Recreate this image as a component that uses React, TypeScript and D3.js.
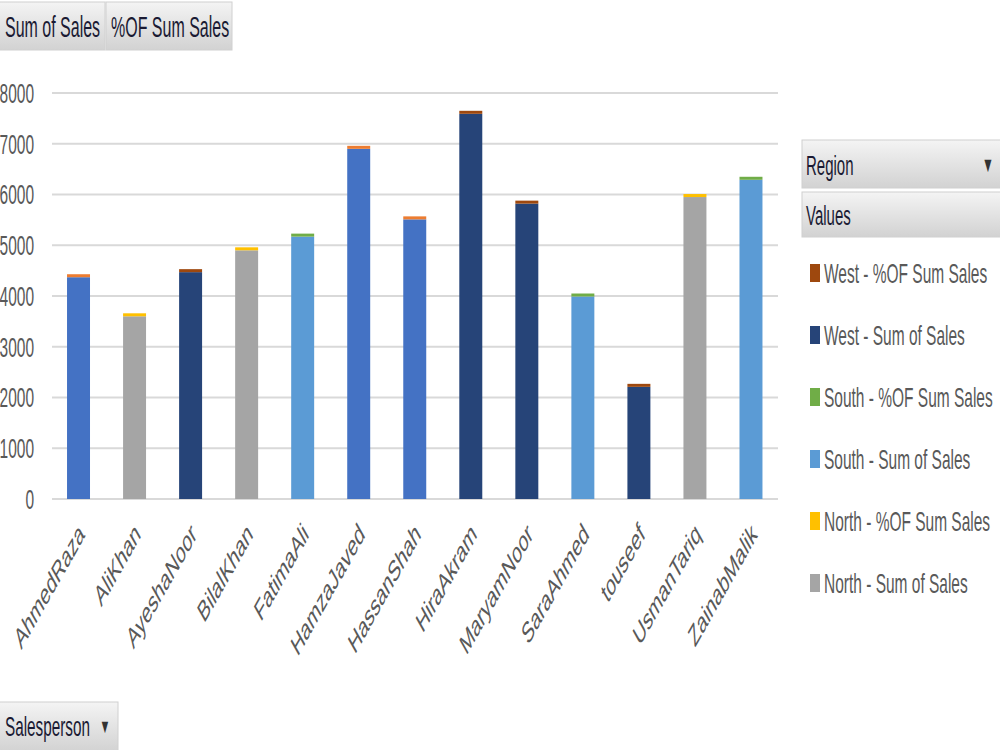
import React from "react";
import * as d3 from "d3";

const salespeople = ["AhmedRaza","AliKhan","AyeshaNoor","BilalKhan","FatimaAli","HamzaJaved","HassanShah","HiraAkram","MaryamNoor","SaraAhmed","touseef","UsmanTariq","ZainabMalik"];
const personRegion = ["East","North","West","North","South","East","East","West","West","South","West","North","South"];
const sumOfSales = [4370,3600,4470,4900,5170,6900,5510,7590,5820,3990,2210,5950,6290];
const pctOfSales = [0.0656,0.0539,0.0669,0.0734,0.0774,0.1033,0.0825,0.1137,0.0872,0.0597,0.0331,0.0891,0.0942];
const regionsOrder = ["East","North","South","West"];
const yTicks = [0,1000,2000,3000,4000,5000,6000,7000,8000];
const seriesColors: Record<string,string> = {
  "East - Sum of Sales": "#4472C4",
  "East - %OF Sum Sales": "#ED7D31",
  "North - Sum of Sales": "#A5A5A5",
  "North - %OF Sum Sales": "#FFC000",
  "South - Sum of Sales": "#5B9BD5",
  "South - %OF Sum Sales": "#70AD47",
  "West - Sum of Sales": "#264478",
  "West - %OF Sum Sales": "#9E480E",
};
const legendItems = ["West - %OF Sum Sales","West - Sum of Sales","South - %OF Sum Sales","South - Sum of Sales","North - %OF Sum Sales","North - Sum of Sales"];

const FONT = "'Liberation Sans', Arial, sans-serif";
const K = 1.8;

function ST(props: any) {
  const { x, y, k = K, size, anchor = "start", fill = "#595959", rotate, dy, children } = props;
  return (
    <text
      transform={`translate(${x},${y}) scale(1,${k})${rotate !== undefined ? ` rotate(${rotate})` : ""}`}
      fontSize={size}
      fontFamily={FONT}
      textAnchor={anchor}
      fill={fill}
      dy={dy}
    >
      {children}
    </text>
  );
}

function Button(props: any) {
  const { x, y, w, h } = props;
  return <rect x={x} y={y} width={w} height={h} fill="url(#btnGrad)" stroke="#d0d0d0" strokeWidth={1} />;
}

export default function App() {
  const seriesKeys: string[] = [];
  regionsOrder.forEach((r) => {
    seriesKeys.push(`${r} - Sum of Sales`);
    seriesKeys.push(`${r} - %OF Sum Sales`);
  });
  const rows = salespeople.map((name, i) => {
    const row: any = { name };
    seriesKeys.forEach((k) => (row[k] = 0));
    row[`${personRegion[i]} - Sum of Sales`] = sumOfSales[i];
    row[`${personRegion[i]} - %OF Sum Sales`] = pctOfSales[i];
    return row;
  });
  const stacked = d3.stack<any>().keys(seriesKeys)(rows);

  const x = d3.scaleBand<string>().domain(salespeople).range([50.5, 779]).paddingInner(0.59).paddingOuter(0.295);
  const y = d3.scaleLinear().domain([0, 8000]).range([499, 93]);

  return (
    <svg width={1000} height={750} style={{ position: "absolute", left: 0, top: 0, background: "#fff" }}>
      <defs>
        <linearGradient id="btnGrad" x1="0" y1="0" x2="0" y2="1">
          <stop offset="0%" stopColor="#f4f4f4" />
          <stop offset="100%" stopColor="#d2d2d2" />
        </linearGradient>
      </defs>
      <rect x={0} y={0} width={1000} height={750} fill="#ffffff" />

      {yTicks.map((t) => (
        <line key={t} x1={52} x2={778} y1={y(t)} y2={y(t)} stroke="#d9d9d9" strokeWidth={2} />
      ))}
      {yTicks.map((t) => (
        <ST key={t} x={34} y={y(t)} size={15.5} anchor="end" dy="0.35em">{t}</ST>
      ))}

      {stacked.map((s) => {
        const isPct = s.key.includes("%");
        return (
          <g key={s.key} fill={seriesColors[s.key]}>
            {s.map((d: any, i: number) => {
              if (d[1] - d[0] <= 0) return null;
              const x0 = x(d.data.name) as number;
              let h = y(d[0]) - y(d[1]);
              if (isPct) h = Math.max(h, 3);
              return <rect key={i} x={x0} y={y(d[0]) - h} width={x.bandwidth()} height={h} />;
            })}
          </g>
        );
      })}

      {salespeople.map((n) => (
        <ST key={n} x={(x(n) as number) + x.bandwidth() / 2 + 7} y={536} size={16.5} k={1.78} anchor="end" rotate={-45}>{n}</ST>
      ))}

      <Button x={-1} y={2} w={106} h={48} />
      <ST x={5} y={37} size={16} fill="#1a1a33">Sum of Sales</ST>
      <Button x={106} y={2} w={126} h={48} />
      <ST x={111} y={37} size={16} fill="#1a1a33">%OF Sum Sales</ST>

      <Button x={802} y={140} w={200} h={48} />
      <ST x={806} y={175} size={15} fill="#1a1a33">Region</ST>
      <ST x={988} y={172} size={12} fill="#333" anchor="middle">▼</ST>
      <Button x={802} y={192} w={200} h={45} />
      <ST x={806} y={225} size={15} fill="#1a1a33">Values</ST>

      {legendItems.map((item, i) => {
        const cy = 273 + i * 62;
        return (
          <g key={item}>
            <rect x={810} y={cy - 9} width={10} height={18} fill={seriesColors[item]} />
            <ST x={824} y={cy} size={15.5} dy="0.35em">{item}</ST>
          </g>
        );
      })}

      <Button x={-1} y={702} w={119} h={50} />
      <ST x={5} y={736} size={15.3} fill="#1a1a33">Salesperson</ST>
      <ST x={105} y={733} size={11} fill="#333" anchor="middle">▼</ST>
    </svg>
  );
}
